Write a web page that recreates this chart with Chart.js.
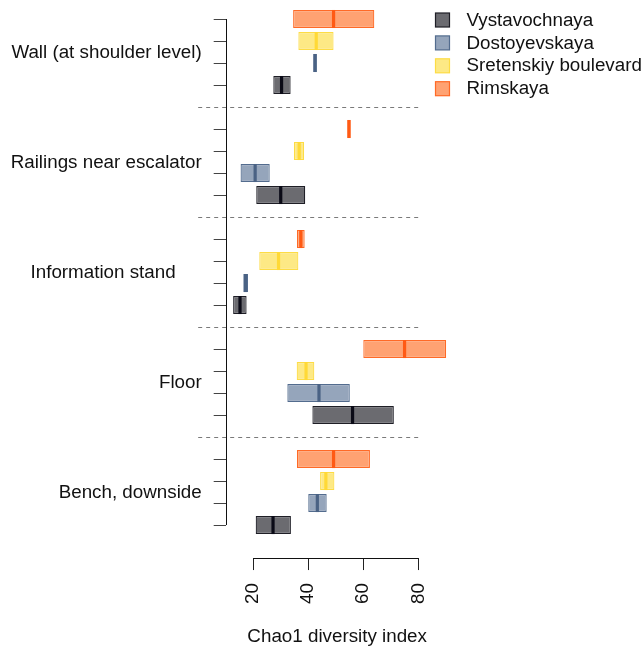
<!DOCTYPE html>
<html>
<head>
<meta charset="utf-8">
<script src="https://cdn.jsdelivr.net/npm/chart.js@4.4.1/dist/chart.umd.min.js"></script>
<style>
  html, body { margin: 0; padding: 0; background: #ffffff; }
  #wrap { width: 644px; height: 648px; }
</style>
</head>
<body>
<div id="wrap"><canvas id="chart" width="644" height="648"></canvas></div>
<script>
// Sampling surfaces (groups, top to bottom) and stations (legend order)
const groups = [
  'Wall (at shoulder level)',
  'Railings near escalator',
  'Information stand     ',
  'Floor',
  'Bench, downside'
];
const stations = ['Vystavochnaya', 'Dostoyevskaya', 'Sretenskiy boulevard', 'Rimskaya'];

// Chao1 ranges (min / max) and medians per surface, one array per station
const vystMin = [27.3, 21.1, 12.7, 41.5, 20.9];
const vystMax = [33.6, 38.9, 17.6, 71.1, 33.7];
const vystMed = [30.3, 30.0, 15.2, 56.1, 27.2];

const dostMin = [41.8, 15.4, 16.4, 32.4, 40.0];
const dostMax = [43.1, 26.0, 18.1, 55.1, 46.7];
const dostMed = [42.5, 20.7, 17.2, 43.9, 43.3];

const sretMin = [36.4, 34.8, 22.2, 35.8, 44.3];
const sretMax = [49.2, 38.5, 36.4, 42.2, 49.5];
const sretMed = [42.9, 36.7, 29.2, 39.2, 46.4];

const rimsMin = [34.5, 54.2, 35.9, 60.0, 35.9];
const rimsMax = [64.0, 55.4, 38.7, 90.1, 62.4];
const rimsMed = [49.2, 54.8, 37.3, 75.0, 49.2];

const xTicks = [20, 40, 60, 80];

// ---- presentation ----
const FONT = '"Liberation Sans", Arial, Helvetica, sans-serif';
const FS = 18.8;
const palette = [
  { fill: '#6b6b70', border: '#1e1e26', median: '#0a0a16' },
  { fill: '#95a5bb', border: '#536c8e', median: '#4a6284' },
  { fill: '#fde985', border: '#fddc45', median: '#ffd936' },
  { fill: '#ffa272', border: '#ff6a26', median: '#ff5a14' }
];

const series = [
  { min: vystMin, max: vystMax, med: vystMed },
  { min: dostMin, max: dostMax, med: dostMed },
  { min: sretMin, max: sretMax, med: sretMed },
  { min: rimsMin, max: rimsMax, med: rimsMed }
];

// each surface occupies 5 rows: 4 stations (Rimskaya on top) and a separator row
const ROWS_PER_GROUP = 5;
const nSlots = groups.length * ROWS_PER_GROUP;
const slotOf = (g, s) => g * ROWS_PER_GROUP + (stations.length - 1 - s);

const slotLabels = Array.from({ length: nSlots }, (_, i) => {
  const g = Math.floor(i / ROWS_PER_GROUP), r = i % ROWS_PER_GROUP;
  return r < stations.length ? groups[g].trim() + ' / ' + stations[stations.length - 1 - r] : '';
});

const datasets = stations.map((name, s) => {
  const data = new Array(nSlots).fill(null);
  groups.forEach((_, g) => { data[slotOf(g, s)] = [series[s].min[g], series[s].max[g]]; });
  return {
    label: name,
    data,
    medians: series[s].med,
    backgroundColor: palette[s].fill,
    borderColor: palette[s].border,
    borderWidth: 1.2,
    borderSkipped: false,
    grouped: false,
    barPercentage: 0.82,
    categoryPercentage: 1,
    clip: false
  };
});

const decorations = {
  id: 'decorations',
  afterDatasetsDraw(chart) {
    const { ctx, chartArea } = chart;
    const xs = chart.scales.x, ys = chart.scales.y;
    ctx.save();

    // median marks
    chart.data.datasets.forEach((ds, s) => {
      const meta = chart.getDatasetMeta(s);
      groups.forEach((_, g) => {
        const el = meta.data[slotOf(g, s)];
        if (!el) return;
        const xm = xs.getPixelForValue(ds.medians[g]);
        ctx.fillStyle = palette[s].median;
        ctx.fillRect(xm - 1.6, el.y - el.height / 2, 3.2, el.height);
      });
    });

    // dashed separators between surfaces
    ctx.strokeStyle = '#7a7a7a';
    ctx.lineWidth = 1;
    ctx.setLineDash([4, 4]);
    for (let g = 0; g < groups.length - 1; g++) {
      const y = Math.round(ys.getPixelForValue(g * ROWS_PER_GROUP + 4)) + 0.5;
      ctx.beginPath();
      ctx.moveTo(xs.getPixelForValue(0), y);
      ctx.lineTo(xs.getPixelForValue(80), y);
      ctx.stroke();
    }
    ctx.setLineDash([]);

    // axis lines spanning the first to the last tick
    ctx.strokeStyle = '#111111';
    const xl = Math.round(chartArea.left) + 0.5;
    ctx.beginPath();
    ctx.moveTo(xl, ys.getPixelForValue(0));
    ctx.lineTo(xl, ys.getPixelForValue(nSlots - 2));
    ctx.stroke();
    const yb = Math.round(chartArea.bottom) + 0.5;
    ctx.beginPath();
    ctx.moveTo(xs.getPixelForValue(xTicks[0]), yb);
    ctx.lineTo(xs.getPixelForValue(xTicks[xTicks.length - 1]), yb);
    ctx.stroke();
    ctx.restore();
  },
  afterDraw(chart) {
    const { ctx, chartArea } = chart;
    const ys = chart.scales.y;
    ctx.save();
    ctx.font = FS + 'px ' + FONT;
    ctx.fillStyle = '#111111';

    // surface names beside each block of bars
    ctx.textAlign = 'right';
    ctx.textBaseline = 'middle';
    groups.forEach((name, g) => {
      const y = (ys.getPixelForValue(g * ROWS_PER_GROUP) + ys.getPixelForValue(g * ROWS_PER_GROUP + 3)) / 2 + 1;
      ctx.fillText(name, chartArea.left - 24, y);
    });

    // legend
    ctx.textAlign = 'left';
    stations.forEach((name, s) => {
      const cy = 20 + s * 22.9;
      ctx.fillStyle = palette[s].fill;
      ctx.fillRect(435.5, cy - 7, 14, 14);
      ctx.strokeStyle = palette[s].border;
      ctx.lineWidth = 1.2;
      ctx.strokeRect(435.5, cy - 7, 14, 14);
      ctx.fillStyle = '#111111';
      ctx.fillText(name, 466.5, cy + 0.5);
    });
    ctx.restore();
  }
};

new Chart(document.getElementById('chart'), {
  type: 'bar',
  data: { labels: slotLabels, datasets },
  options: {
    indexAxis: 'y',
    responsive: false,
    animation: false,
    devicePixelRatio: 1,
    layout: { padding: { left: 213.7, right: 195.4, top: 8, bottom: 0 } },
    plugins: { legend: { display: false }, tooltip: { enabled: false } },
    scales: {
      x: {
        type: 'linear',
        min: 10,
        max: 91,
        afterBuildTicks: (scale) => { scale.ticks = xTicks.map(v => ({ value: v })); },
        border: { display: false },
        grid: { drawOnChartArea: false, drawTicks: true, tickLength: 12, color: '#222222', lineWidth: 1 },
        ticks: {
          minRotation: 90, maxRotation: 90, padding: 13, autoSkip: false,
          color: '#111111', font: { family: FONT, size: FS }
        },
        title: {
          display: true, text: 'Chao1 diversity index', color: '#111111',
          font: { family: FONT, size: FS }, padding: { top: 8.5, bottom: 0 }
        }
      },
      y: {
        type: 'category',
        offset: true,
        border: { display: false },
        grid: {
          offset: false, drawOnChartArea: false, drawTicks: true, tickLength: 12, lineWidth: 1,
          color: (c) => (slotLabels[c.index] ? '#444444' : 'rgba(0,0,0,0)')
        },
        ticks: { display: false, autoSkip: false }
      }
    }
  },
  plugins: [decorations]
});
</script>
</body>
</html>
